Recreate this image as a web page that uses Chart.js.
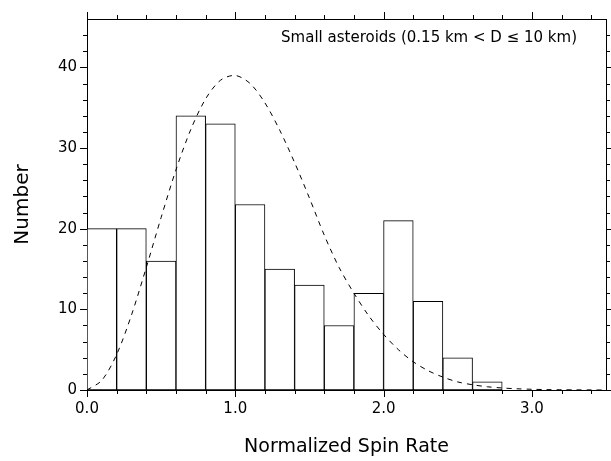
<!DOCTYPE html>
<html lang="en">
<head>
    <meta charset="UTF-8">
    <title>Normalized Spin Rate</title>
    <script src="https://cdn.jsdelivr.net/npm/chart.js"></script>
    <style>
        html, body { margin: 0; padding: 0; background: #fff; }
        #wrap { width: 611px; height: 461px; position: relative; }
    </style>
</head>
<body>
<div id="wrap"><canvas id="grafico"></canvas></div>
<script>
    // histogram bins (centre of each 0.2 wide bin) and counts
    const binCenters = [0.1, 0.3, 0.5, 0.7, 0.9, 1.1, 1.3, 1.5, 1.7, 1.9, 2.1, 2.3, 2.5, 2.7];
    const counts = [20, 20, 16, 34, 33, 23, 15, 13, 8, 12, 21, 11, 4, 1];

    // dashed fit curve
    const curveX = [0, 0.1, 0.2, 0.3, 0.4, 0.5, 0.6, 0.7, 0.8, 0.9, 1.0, 1.1, 1.2, 1.3, 1.4, 1.5, 1.6, 1.7,
                    1.8, 1.9, 2.0, 2.1, 2.2, 2.3, 2.4, 2.5, 2.6, 2.7, 2.8, 2.9, 3.0, 3.1, 3.2, 3.3, 3.4, 3.5];
    const curveY = [0, 1.2, 4.4, 9.3, 15.2, 21.4, 27.3, 32.3, 36.1, 38.4, 39.0, 38.0, 35.6, 32.2, 28.2, 23.8, 19.2, 15.2,
                    12.0, 9.2, 6.9, 5.0, 3.5, 2.4, 1.6, 1.0, 0.65, 0.4, 0.25, 0.15, 0.09, 0.05, 0.03, 0.02, 0.01, 0];

    // tick positions
    const xMajorTicks = [0, 1, 2, 3];
    const xMinorTicks = [0.2, 0.4, 0.6, 0.8, 1.2, 1.4, 1.6, 1.8, 2.2, 2.4, 2.6, 2.8, 3.2, 3.4];
    const yMajorTicks = [0, 10, 20, 30, 40];
    const yMinorTicks = [2, 4, 6, 8, 12, 14, 16, 18, 22, 24, 26, 28, 32, 34, 36, 38, 42, 44];

    const legenda = 'Small asteroids (0.15 km < D \u2264 10 km)';
    const fonte = "'DejaVu Sans', sans-serif";

    // ticks on all four sides, pointing outwards
    const tiquesPlugin = {
        id: 'tiques',
        afterDraw(chart) {
            const {ctx, chartArea: a, scales} = chart;
            ctx.save();
            ctx.strokeStyle = '#000';
            ctx.lineWidth = 1;
            ctx.beginPath();
            const tx = (v, len) => {
                const px = Math.round(scales.x.getPixelForValue(v)) + 0.5;
                ctx.moveTo(px, a.bottom); ctx.lineTo(px, a.bottom + len);
                ctx.moveTo(px, a.top); ctx.lineTo(px, a.top - len);
            };
            const ty = (v, len) => {
                const py = Math.round(scales.y.getPixelForValue(v)) + 0.5;
                ctx.moveTo(a.left, py); ctx.lineTo(a.left - len, py);
                ctx.moveTo(a.right, py); ctx.lineTo(a.right + len, py);
            };
            xMajorTicks.forEach(v => tx(v, 7));
            xMinorTicks.forEach(v => tx(v, 4));
            yMajorTicks.forEach(v => ty(v, 7));
            yMinorTicks.forEach(v => ty(v, 4));
            ctx.stroke();

            ctx.fillStyle = '#000';
            ctx.font = '15px ' + fonte;
            ctx.textAlign = 'right';
            ctx.textBaseline = 'middle';
            ctx.fillText(legenda, a.right - 29, a.top + 19);
            ctx.restore();
        }
    };

    const bordaPreta = { display: true, color: '#000', width: 1 };

    new Chart(document.getElementById('grafico'), {
        type: 'bar',
        data: {
            datasets: [{
                type: 'line',
                data: curveX.map((x, i) => ({ x: x, y: curveY[i] })),
                borderColor: '#000',
                borderWidth: 1,
                borderDash: [5, 5],
                pointRadius: 0,
                tension: 0.3,
                fill: false,
                order: 0
            }, {
                type: 'bar',
                data: binCenters.map((x, i) => ({ x: x, y: counts[i] })),
                backgroundColor: '#fff',
                borderColor: '#000',
                borderWidth: 1,
                borderSkipped: false,
                barPercentage: 1,
                categoryPercentage: 1,
                order: 1
            }]
        },
        options: {
            responsive: true,
            maintainAspectRatio: false,
            animation: false,
            layout: { padding: { top: 9, right: 5, left: 0, bottom: 0 } },
            plugins: {
                legend: { display: false },
                tooltip: { enabled: false }
            },
            scales: {
                x: {
                    type: 'linear',
                    position: 'bottom',
                    offset: false,
                    min: 0,
                    max: 3.5,
                    grid: { display: false, drawTicks: false, offset: false },
                    border: bordaPreta,
                    ticks: {
                        stepSize: 1,
                        includeBounds: false,
                        padding: 10,
                        color: '#000',
                        font: { family: fonte, size: 15 },
                        callback: v => v.toFixed(1)
                    },
                    title: {
                        display: true,
                        text: 'Normalized Spin Rate',
                        color: '#000',
                        font: { family: fonte, size: 19 },
                        padding: { top: 0, bottom: 3 }
                    },
                    afterFit: s => { s.height = 71; }
                },
                x2: {
                    type: 'linear',
                    position: 'top',
                    offset: false,
                    min: 0,
                    max: 3.5,
                    grid: { display: false, drawTicks: false, offset: false },
                    border: bordaPreta,
                    ticks: { display: false },
                    afterFit: s => { s.height = 0; }
                },
                y: {
                    type: 'linear',
                    position: 'left',
                    min: 0,
                    max: 46,
                    grid: { display: false, drawTicks: false },
                    border: bordaPreta,
                    ticks: {
                        stepSize: 10,
                        includeBounds: false,
                        padding: 10,
                        color: '#000',
                        font: { family: fonte, size: 15 }
                    },
                    title: {
                        display: true,
                        text: 'Number',
                        color: '#000',
                        font: { family: fonte, size: 20 },
                        padding: { top: 11, bottom: 0 }
                    },
                    afterFit: s => { s.width = 87; }
                },
                y2: {
                    type: 'linear',
                    position: 'right',
                    min: 0,
                    max: 46,
                    grid: { display: false, drawTicks: false },
                    border: bordaPreta,
                    ticks: { display: false },
                    afterFit: s => { s.width = 0; }
                }
            }
        },
        plugins: [tiquesPlugin]
    });
</script>
</body>
</html>
